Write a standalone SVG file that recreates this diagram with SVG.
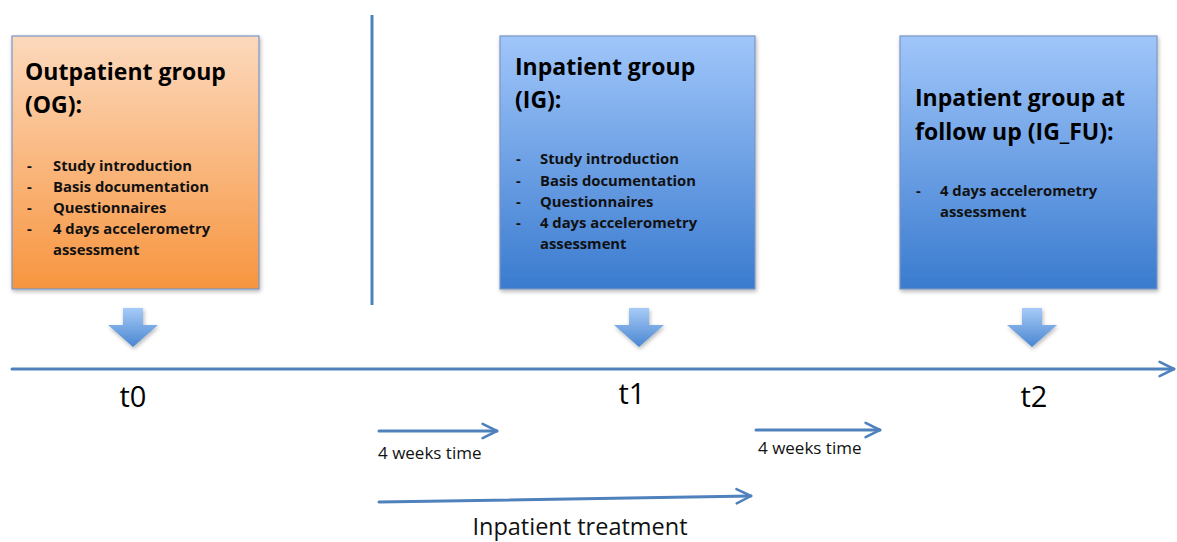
<svg xmlns="http://www.w3.org/2000/svg" width="1177" height="542" viewBox="0 0 1177 542">
<style>
.box{stroke:#7b96c4;stroke-width:1.2}
.title{font-family:"Open Sans","Liberation Sans",sans-serif;font-weight:bold;font-size:23px;fill:#000}
.item{font-family:"Open Sans","Liberation Sans",sans-serif;font-weight:bold;font-size:14.8px;fill:#111}
.tl{font-family:"Open Sans","Liberation Sans",sans-serif;font-size:29px;fill:#000}
.small{font-family:"Open Sans","Liberation Sans",sans-serif;font-size:17px;fill:#111}
.big{font-family:"Open Sans","Liberation Sans",sans-serif;font-size:23.5px;fill:#111}
.line{stroke:#4f81bd;stroke-width:3;fill:none;stroke-linecap:round}
.blk{fill:url(#gArrow)}
</style>
<defs>
<linearGradient id="gOrange" x1="0" y1="0" x2="0" y2="1">
<stop offset="0" stop-color="#fcd9bd"/>
<stop offset="1" stop-color="#f7953f"/>
</linearGradient>
<linearGradient id="gBlue" x1="0" y1="0" x2="0" y2="1">
<stop offset="0" stop-color="#a0c6fa"/>
<stop offset="1" stop-color="#3a7bcf"/>
</linearGradient>
<linearGradient id="gArrow" x1="0" y1="0" x2="0" y2="1">
<stop offset="0" stop-color="#a6cbf8"/>
<stop offset="1" stop-color="#4a86d0"/>
</linearGradient>
<filter id="sh" x="-10%" y="-10%" width="125%" height="125%">
<feGaussianBlur in="SourceAlpha" stdDeviation="2"/>
<feOffset dx="1" dy="2" result="b"/>
<feComponentTransfer><feFuncA type="linear" slope="0.3"/></feComponentTransfer>
<feMerge><feMergeNode/><feMergeNode in="SourceGraphic"/></feMerge>
</filter>
<marker id="arr" viewBox="0 0 10 10" refX="9" refY="5" markerWidth="6" markerHeight="6" orient="auto" markerUnits="strokeWidth">
<path d="M1,1 L9,5 L1,9" fill="none" stroke="#4f81bd" stroke-width="1.4" stroke-linecap="round" stroke-linejoin="round"/>
</marker>
</defs>
<rect width="1177" height="542" fill="#fff"/>

<g id="node-og">
<rect class="box" x="12" y="36" width="247" height="253" fill="url(#gOrange)" filter="url(#sh)"/>
<text class="title" x="25" y="80">Outpatient group</text>
<text class="title" x="25" y="113">(OG):</text>
<g class="item">
<text x="27" y="171">-</text><text x="53" y="171">Study introduction</text>
<text x="27" y="192">-</text><text x="53" y="192">Basis documentation</text>
<text x="27" y="213">-</text><text x="53" y="213">Questionnaires</text>
<text x="27" y="234">-</text><text x="53" y="234">4 days accelerometry</text>
<text x="53" y="255">assessment</text>
</g>
</g>

<g id="node-ig">
<rect class="box" x="500" y="36" width="255" height="253" fill="url(#gBlue)" filter="url(#sh)"/>
<text class="title" x="515" y="75">Inpatient group</text>
<text class="title" x="515" y="108">(IG):</text>
<g class="item">
<text x="516" y="164">-</text><text x="540" y="164">Study introduction</text>
<text x="516" y="186">-</text><text x="540" y="186">Basis documentation</text>
<text x="516" y="207">-</text><text x="540" y="207">Questionnaires</text>
<text x="516" y="228">-</text><text x="540" y="228">4 days accelerometry</text>
<text x="540" y="249">assessment</text>
</g>
</g>

<g id="node-igfu">
<rect class="box" x="900" y="36" width="257" height="253" fill="url(#gBlue)" filter="url(#sh)"/>
<text class="title" x="915" y="106">Inpatient group at</text>
<text class="title" x="915" y="140">follow up (IG_FU):</text>
<g class="item">
<text x="916" y="196">-</text><text x="940" y="196">4 days accelerometry</text>
<text x="940" y="217">assessment</text>
</g>
</g>

<g id="divider">
<line x1="372" y1="15" x2="372" y2="305" stroke="#4f81bd" stroke-width="3"/>
</g>

<g id="connectors">
<path class="blk" d="M123,308 H143 V325 H158 L133,347 L108,325 H123 Z" filter="url(#sh)"/>
<path class="blk" d="M629,308 H649 V325 H664 L639,347 L614,325 H629 Z" filter="url(#sh)"/>
<path class="blk" d="M1022,308 H1042 V325 H1057 L1032,347 L1007,325 H1022 Z" filter="url(#sh)"/>
<line class="line" x1="12" y1="369" x2="1174" y2="369" marker-end="url(#arr)"/>
<line class="line" x1="379" y1="431" x2="497" y2="431" marker-end="url(#arr)"/>
<line class="line" x1="756" y1="430" x2="880" y2="430" marker-end="url(#arr)"/>
<line class="line" x1="379" y1="502" x2="751" y2="496" marker-end="url(#arr)"/>
</g>

<g id="labels">
<text class="tl" x="133" y="407" text-anchor="middle">t0</text>
<text class="tl" x="632" y="404" text-anchor="middle">t1</text>
<text class="tl" x="1034" y="407" text-anchor="middle">t2</text>
<text class="small" x="378" y="459">4 weeks time</text>
<text class="small" x="758" y="454">4 weeks time</text>
<text class="big" x="580" y="535" text-anchor="middle">Inpatient treatment</text>
</g>
</svg>
